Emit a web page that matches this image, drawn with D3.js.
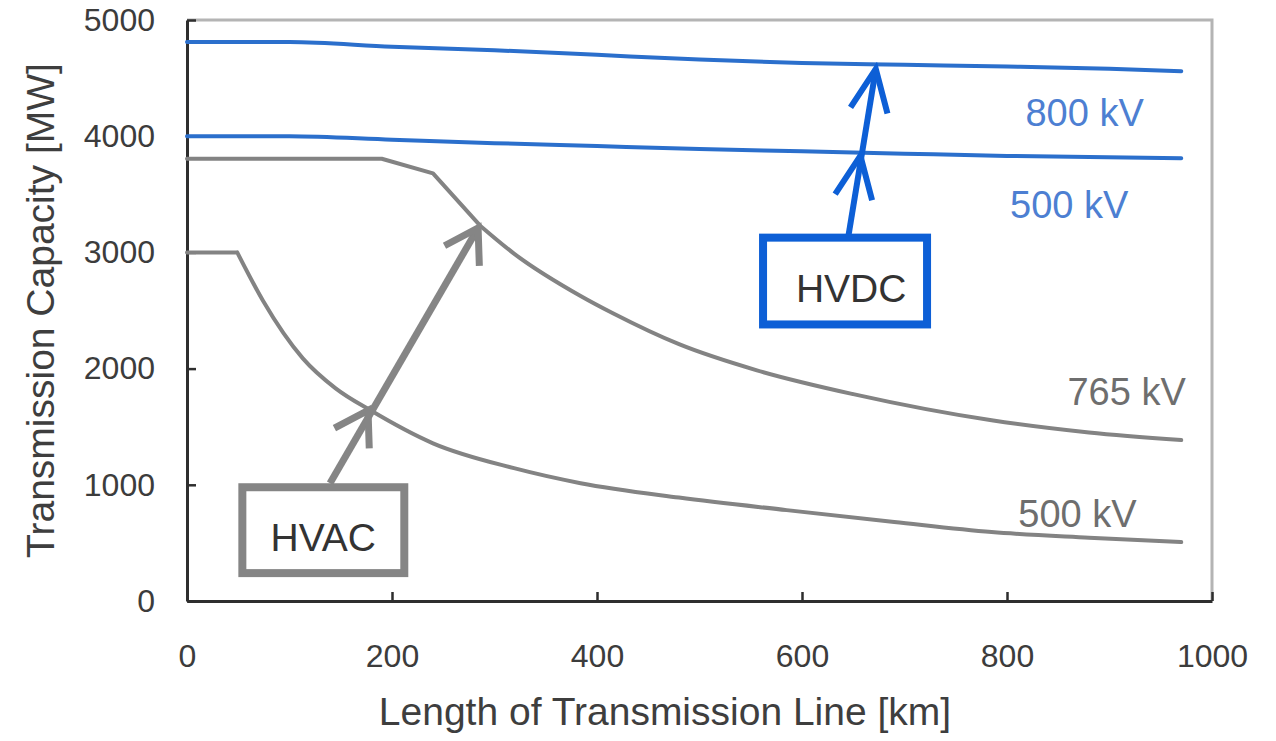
<!DOCTYPE html>
<html>
<head>
<meta charset="utf-8">
<script src="https://cdn.jsdelivr.net/npm/d3@7"></script>
<style>
  body { margin: 0; background: #fff; }
  svg { display: block; font-family: "Liberation Sans", Arial, sans-serif; }
  .tick text { fill: #3c3c3c; font-size: 32px; }
  .title { fill: #3e3e3e; font-size: 39px; }
</style>
</head>
<body>
<svg width="1276" height="741"></svg>
<script>
// length [km] vs capacity [MW]
const hvdc800 = [[0, 4810], [100, 4810], [200, 4770], [300, 4740], [400, 4700], [500, 4660],
                 [600, 4630], [700, 4615], [800, 4600], [900, 4580], [970, 4560]];
const hvdc500 = [[0, 4000], [100, 4000], [200, 3970], [300, 3940], [400, 3915], [500, 3890],
                 [600, 3870], [700, 3850], [800, 3830], [970, 3810]];
const hvac765 = [[0, 3806], [190, 3806], [240, 3680], [286, 3230], [319, 2990],
                 [384, 2625], [416, 2474], [480, 2210], [556, 1985], [650, 1780],
                 [785, 1555], [880, 1450], [970, 1385]];
const hvac500 = [[0, 3000], [49, 3000], [74, 2586], [113, 2088], [145, 1830], [179, 1641],
                 [240, 1357], [319, 1143], [384, 1014], [480, 890], [585, 782], [690, 680],
                 [785, 593], [880, 545], [970, 507]];

const xTicks = [0, 200, 400, 600, 800, 1000];
const yTicks = [0, 1000, 2000, 3000, 4000, 5000];

// curve labels: [text, km, MW at baseline start]
const lineLabels = [
  ["800 kV", 818, 4090, "#4d7fd2"],
  ["500 kV", 803, 3296, "#4d7fd2"],
  ["765 kV", 859, 1684, "#6e6e6e"],
  ["500 kV", 811, 637, "#6e6e6e"]
];

window.onload = () => {
  const svg = d3.select("svg");
  const x = d3.scaleLinear().domain([0, 1000]).range([187, 1212]);
  const y = d3.scaleLinear().domain([0, 5000]).range([601, 20]);

  // frame: light top/right
  svg.append("path")
    .attr("d", `M${x(0)},${y(5000)}H${x(1000)}V${y(0)}`)
    .attr("fill", "none")
    .attr("stroke", "#b4b4b4")
    .attr("stroke-width", 3);

  const xAxis = svg.append("g")
    .attr("transform", `translate(0,${y(0)})`)
    .call(d3.axisBottom(x).tickValues(xTicks).tickFormat(d3.format("d"))
      .tickSizeInner(-9).tickSizeOuter(0).tickPadding(43));
  const yAxis = svg.append("g")
    .attr("transform", `translate(${x(0)},0)`)
    .call(d3.axisLeft(y).tickValues(yTicks).tickFormat(d3.format("d"))
      .tickSizeInner(-9).tickSizeOuter(0).tickPadding(32));

  [xAxis, yAxis].forEach(a => {
    a.attr("font-family", null).attr("font-size", null);
    a.select(".domain").attr("stroke", "#2e2e2e").attr("stroke-width", 3);
    a.selectAll(".tick line").attr("stroke", "#2e2e2e").attr("stroke-width", 2.5);
  });

  const straight = d3.line().x(d => x(d[0])).y(d => y(d[1]));
  const smooth = d3.line().x(d => x(d[0])).y(d => y(d[1])).curve(d3.curveMonotoneX);

  // kinked start drawn straight, the rest smoothed
  const path = (data, k) => k > 0
    ? straight(data.slice(0, k + 1)) + smooth(data.slice(k))
    : smooth(data);

  const series = [
    [hvdc800, 0, "#2b6fcc"],
    [hvdc500, 0, "#2b6fcc"],
    [hvac765, 3, "#838383"],
    [hvac500, 1, "#838383"]
  ];

  svg.append("g")
    .selectAll("path")
    .data(series)
    .join("path")
      .attr("d", d => path(d[0], d[1]))
      .attr("fill", "none")
      .attr("stroke", d => d[2])
      .attr("stroke-width", 4)
      .attr("stroke-linejoin", "round")
      .attr("stroke-linecap", "round");

  svg.append("g")
    .selectAll("text")
    .data(lineLabels)
    .join("text")
      .attr("x", d => x(d[1]))
      .attr("y", d => y(d[2]))
      .attr("fill", d => d[3])
      .attr("font-size", 38)
      .text(d => d[0]);

  drawCallout(svg, x, y, {
    label: "HVAC", color: "#858585", box: [54, 212, 979, 240], text: [133, 549],
    from: [139.5, 1013], mid: [176.6, 1640], to: [284, 3210], head: 38, angle: 32, width: 7
  });
  drawCallout(svg, x, y, {
    label: "HVDC", color: "#0d5fd6", box: [562, 722, 3127, 2380], text: [648, 2689],
    from: [645, 3127], mid: [657, 3832], to: [672, 4579], head: 46, angle: 24, width: 6
  });

  svg.append("text")
    .attr("class", "title")
    .attr("text-anchor", "middle")
    .attr("transform", `translate(54,${(y(0) + y(5000)) / 2}) rotate(-90)`)
    .text("Transmission Capacity [MW]");

  svg.append("text")
    .attr("class", "title")
    .attr("text-anchor", "middle")
    .attr("x", 665)
    .attr("y", 725)
    .text("Length of Transmission Line [km]");
}

const drawCallout = (svg, x, y, c) => {
  const g = svg.append("g").attr("stroke", c.color).attr("fill", "none");
  const [x0, x1, y0, y1] = c.box;

  g.append("rect")
    .attr("x", x(x0))
    .attr("y", y(y0))
    .attr("width", x(x1) - x(x0))
    .attr("height", y(y1) - y(y0))
    .attr("stroke-width", 8);

  g.append("line")
    .attr("x1", x(c.from[0])).attr("y1", y(c.from[1]))
    .attr("x2", x(c.to[0])).attr("y2", y(c.to[1]))
    .attr("stroke-width", c.width);

  // back direction of shaft, used for both chevrons
  const back = Math.atan2(y(c.from[1]) - y(c.to[1]), x(c.from[0]) - x(c.to[0]));
  const a = c.angle * Math.PI / 180;
  [c.mid, c.to].forEach(p => {
    const px = x(p[0]), py = y(p[1]);
    const l = [px + c.head * Math.cos(back + a), py + c.head * Math.sin(back + a)];
    const r = [px + c.head * Math.cos(back - a), py + c.head * Math.sin(back - a)];
    g.append("path")
      .attr("d", `M${l}L${px},${py}L${r}`)
      .attr("stroke-width", c.width)
      .attr("stroke-linejoin", "miter");
  });

  svg.append("text")
    .attr("x", x(c.text[0]))
    .attr("y", y(c.text[1]))
    .attr("dy", "0.35em")
    .attr("text-anchor", "middle")
    .attr("fill", "#333")
    .attr("font-size", 39)
    .text(c.label);
}
</script>
</body>
</html>
